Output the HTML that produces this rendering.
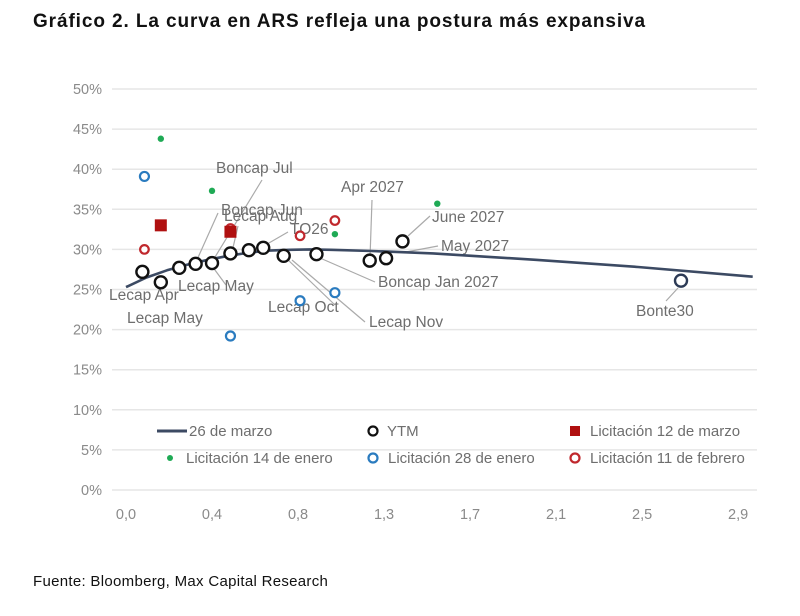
<!DOCTYPE html>
<html><head><meta charset="utf-8">
<style>
body{margin:0;background:#fff;width:800px;height:611px;overflow:hidden;font-family:"Liberation Sans",Arial,sans-serif}
svg text{font-family:"Liberation Sans",Arial,sans-serif}
</style></head>
<body>
<svg id="chart" width="800" height="611" xmlns="http://www.w3.org/2000/svg">
<text x="33" y="27" font-size="19" font-weight="bold" letter-spacing="0.9" fill="#111">Gráfico 2. La curva en ARS refleja una postura más expansiva</text>
<g id="grid"></g><g id="axis"></g><g id="annot" font-size="15.5" fill="#6e6e6e"></g><g id="curve"></g><g id="marks"></g>
<g id="legend" font-size="15" fill="#6e6e6e">
<line x1="157" y1="431" x2="187" y2="431" stroke="#3c4a63" stroke-width="3"/>
<text x="189" y="436">26 de marzo</text>
<circle cx="373" cy="431" r="4.5" fill="none" stroke="#111" stroke-width="2.2"/>
<text x="387" y="436">YTM</text>
<rect x="570" y="426" width="10" height="10" fill="#b01010"/>
<text x="590" y="436">Licitación 12 de marzo</text>
<circle cx="170" cy="458" r="3" fill="#1faa55"/>
<text x="186" y="463">Licitación 14 de enero</text>
<circle cx="373" cy="458" r="4.5" fill="none" stroke="#2a7bbf" stroke-width="2.2"/>
<text x="388" y="463">Licitación 28 de enero</text>
<circle cx="575" cy="458" r="4.5" fill="none" stroke="#c0282d" stroke-width="2.2"/>
<text x="590" y="463">Licitación 11 de febrero</text>
</g>
<text x="33" y="586" font-size="15" letter-spacing="0.3" fill="#111">Fuente: Bloomberg, Max Capital Research</text>
</svg>
<script>
const yTicks=[0,5,10,15,20,25,30,35,40,45,50];
const xTickVals=[0,0.42,0.84,1.26,1.68,2.10,2.52,2.94];
const xTickLabels=["0,0","0,4","0,8","1,3","1,7","2,1","2,5","2,9"];
const curveX=[0,0.1,0.2,0.3,0.4,0.5,0.6,0.7,0.8,0.9,1.0,1.2,1.5,2.0,2.5,3.06];
const curveY=[25.3,26.5,27.4,28.1,28.7,29.2,29.6,29.85,29.95,30.0,29.95,29.8,29.5,28.7,27.8,26.6];
const ytmX=[0.08,0.17,0.26,0.34,0.42,0.51,0.60,0.67,0.77,0.93,1.19,1.27,1.35,2.71];
const ytmY=[27.2,25.9,27.7,28.2,28.3,29.5,29.9,30.2,29.2,29.4,28.6,28.9,31.0,26.1];
const eneroX=[0.17,0.42,1.02,1.52];
const eneroY=[43.8,37.3,31.9,35.7];
const enero28X=[0.09,0.51,0.85,1.02];
const enero28Y=[39.1,19.2,23.6,24.6];
const febX=[0.09,0.51,0.85,1.02];
const febY=[30.0,32.6,31.7,33.6];
const marzoX=[0.17,0.51];
const marzoY=[33.0,32.2];
const NS="http://www.w3.org/2000/svg";
function X(v){return 126+v*204.8;}
function Y(v){return 490-v*8.02;}
function mk(tag,attrs,parent){const e=document.createElementNS(NS,tag);for(const k in attrs)e.setAttribute(k,attrs[k]);document.getElementById(parent).appendChild(e);return e;}
yTicks.forEach(t=>{
 const l=mk('line',{x1:112,x2:757,y1:Y(t),y2:Y(t),stroke:'#e6e6e6','stroke-width':1.5},'grid');
 
 
 const tx=mk('text',{x:102,y:Y(t)+5,'text-anchor':'end','font-size':14.5,fill:'#8a8a8a'},'axis');
 tx.textContent=t+'%';
 
 
});
xTickVals.forEach((v,i)=>{
 const tx=mk('text',{x:X(v)+(i==7?10:0),y:519,'text-anchor':'middle','font-size':14.5,fill:'#8a8a8a'},'axis');
 tx.textContent=xTickLabels[i];
 
 
});
const ann=[["Boncap Jul",216,173,[262,180,212,262]],["Boncap Jun",221,215,[218,213,196,262]],["Lecap Aug",224,221,[238,226,232,252]],["TO26",290,234,[288,232,262,247]],["Apr 2027",341,192,[372,200,370,258]],["June 2027",432,222,[430,216,408,236]],["May 2027",441,251,[438,246,406,252]],["Boncap Jan 2027",378,287,[375,282,320,258]],["Lecap Oct",268,312,[335,305,286,258]],["Lecap Nov",369,327,[365,322,292,260]],["Lecap May",178,291,[226,285,212,266]],["Lecap Apr",109,300,null],["Lecap May",127,323,null],["Bonte30",636,316,[666,301,678,288]]];
ann.forEach(a=>{
 if(a[3]){const l=mk('line',{x1:a[3][0],y1:a[3][1],x2:a[3][2],y2:a[3][3],stroke:'#aaa','stroke-width':1.2},'annot');
 
 }
 const t=mk('text',{x:a[1],y:a[2]},'annot');t.textContent=a[0];
 
 
});
let d=curveX.map((v,i)=>(i?'L':'M')+X(v).toFixed(1)+','+Y(curveY[i]).toFixed(1)).join(' ');
const cp=mk('path',{d:d,fill:'none',stroke:'#3c4a63','stroke-width':2.6,'stroke-linejoin':'round'},'curve');


febX.forEach((v,i)=>{const c=mk('circle',{cx:X(v),cy:Y(febY[i]),r:4.3,fill:'#fff',stroke:'#c0282d','stroke-width':2.2},'marks');
 
 });
marzoX.forEach((v,i)=>{const c=mk('rect',{x:X(v)-6,y:Y(marzoY[i])-6,width:12,height:12,fill:'#b01010'},'marks');
 
 });
eneroX.forEach((v,i)=>{const c=mk('circle',{cx:X(v),cy:Y(eneroY[i]),r:3.2,fill:'#1faa55'},'marks');
 
 });
enero28X.forEach((v,i)=>{const c=mk('circle',{cx:X(v),cy:Y(enero28Y[i]),r:4.5,fill:'#fff',stroke:'#2a7bbf','stroke-width':2.2},'marks');
 
 });
ytmX.forEach((v,i)=>{const c=mk('circle',{cx:X(v),cy:Y(ytmY[i]),r:6,fill:'#fff',stroke:i==ytmX.length-1?'#2c3a55':'#111','stroke-width':2.4},'marks');
 
 });
</script>
</body></html>
